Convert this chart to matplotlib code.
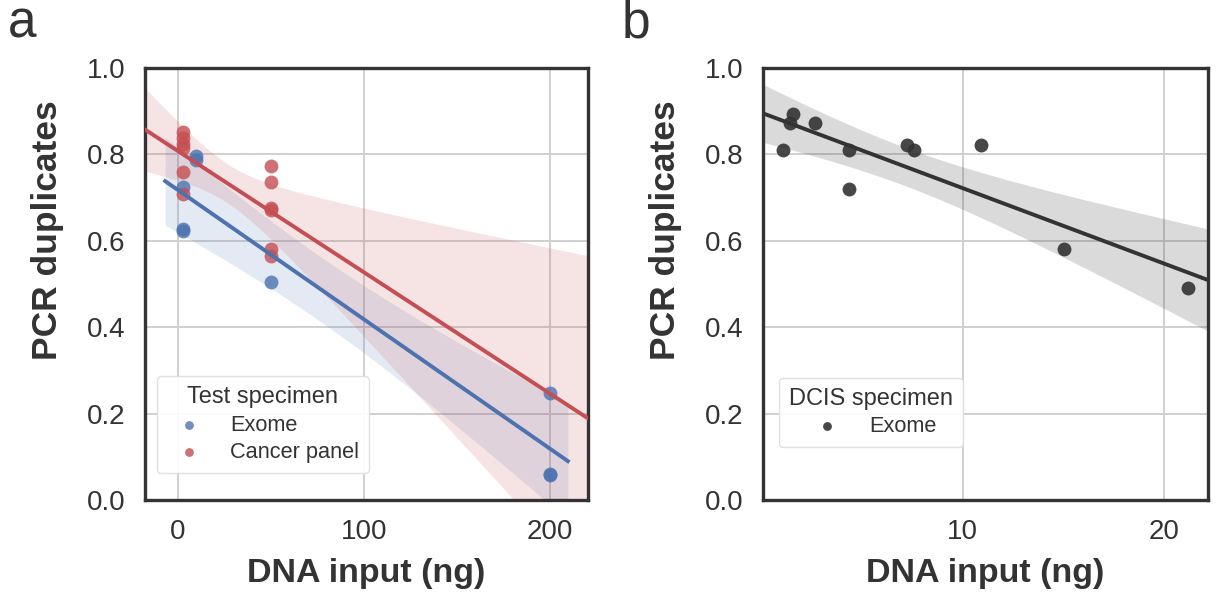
import math
import numpy as np
import matplotlib
matplotlib.use("Agg")
import matplotlib.pyplot as plt

# ---------------- data ----------------
exome_a_x = [3, 3, 3, 10, 10, 50, 200, 200, 200]
exome_a_y = [0.724, 0.627, 0.622, 0.796, 0.788, 0.505, 0.247, 0.061, 0.058]

panel_a_x = [3, 3, 3, 3, 3, 3, 50, 50, 50, 50, 50, 50]
panel_a_y = [0.852, 0.838, 0.825, 0.815, 0.759, 0.708,
             0.774, 0.737, 0.677, 0.672, 0.581, 0.565]

dcis_x = [1.1, 1.6, 1.45, 2.67, 4.38, 4.38, 7.25, 7.58, 10.9, 15.04, 21.16]
dcis_y = [0.811, 0.893, 0.873, 0.873, 0.811, 0.721, 0.822, 0.811, 0.822, 0.581, 0.491]

yticks = [0.0, 0.2, 0.4, 0.6, 0.8, 1.0]
xticks_a = [0, 100, 200]
xticks_b = [10, 20]

BLUE = "#4C72B0"
RED = "#C44E52"
DARK = "#333333"
TXT = "#333333"

plt.rcParams['font.family'] = ['Liberation Sans', 'DejaVu Sans']


def t_ppf(q, df):
    c = math.gamma((df + 1) / 2) / (math.sqrt(df * math.pi) * math.gamma(df / 2))
    def cdf(t):
        xs = np.linspace(0, t, 4001)
        pdf = c * (1 + xs ** 2 / df) ** (-(df + 1) / 2)
        return 0.5 + np.trapezoid(pdf, xs)
    lo, hi = 0.0, 20.0
    for _ in range(60):
        mid = (lo + hi) / 2
        if cdf(mid) < q:
            lo = mid
        else:
            hi = mid
    return (lo + hi) / 2


def fit_band(x, y, grid):
    x = np.asarray(x, float)
    y = np.asarray(y, float)
    n = len(x)
    b, a = np.polyfit(x, y, 1)
    res = y - (a + b * x)
    s = math.sqrt(np.sum(res ** 2) / (n - 2))
    sxx = np.sum((x - x.mean()) ** 2)
    tq = t_ppf(0.975, n - 2)
    yhat = a + b * grid
    se = s * np.sqrt(1.0 / n + (grid - x.mean()) ** 2 / sxx)
    return yhat, yhat - tq * se, yhat + tq * se


def margins(v, frac=0.05):
    lo, hi = min(v), max(v)
    r = hi - lo
    return lo - frac * r, hi + frac * r


def style_axes(ax):
    ax.set_facecolor("white")
    ax.grid(True, color="#d0d0d0", linewidth=1.4)
    ax.set_axisbelow(True)
    for sp in ax.spines.values():
        sp.set_color(DARK)
        sp.set_linewidth(2.4)
    ax.tick_params(axis='both', labelsize=20, colors=TXT, length=0, pad=14)
    ax.set_ylim(0, 1)
    ax.set_yticks(yticks)
    ax.set_yticklabels([f"{v:.1f}" for v in yticks])
    ax.set_xlabel("DNA input (ng)", fontsize=24.5, fontweight='bold', color=TXT, labelpad=9)
    ax.set_ylabel("PCR duplicates", fontsize=25.5, fontweight='bold', color=TXT)


def style_legend(leg):
    for t in leg.get_texts():
        t.set_color(TXT)
    leg.get_title().set_color(TXT)
    leg.get_frame().set_linewidth(1.0)


fig = plt.figure(figsize=(12.21, 5.98), dpi=100)
W, H = 1221, 598
ax1 = fig.add_axes([145 / W, 98 / H, 443 / W, 432 / H])
ax2 = fig.add_axes([763 / W, 98 / H, 445 / W, 432 / H])

MS = 100
LEG = dict(loc="lower left", borderaxespad=0, fontsize=15.7, title_fontsize=17,
           handletextpad=0.9, frameon=True, fancybox=True, edgecolor="#dddddd",
           framealpha=0.9, borderpad=0.45, labelspacing=0.3)

# ---------------- panel a ----------------
style_axes(ax1)
bx0, bx1 = margins(exome_a_x)
xlim_a = margins([bx0, bx1])
ax1.set_xlim(*xlim_a)

g_blue = np.linspace(bx0, bx1, 200)
yh, lo, hi = fit_band(exome_a_x, exome_a_y, g_blue)
ax1.fill_between(g_blue, lo, hi, color=BLUE, alpha=0.15, linewidth=0, zorder=2)
ax1.plot(g_blue, yh, color=BLUE, lw=2.8, zorder=4)
ax1.scatter(exome_a_x, exome_a_y, s=MS, color=BLUE, alpha=0.8, linewidths=0, zorder=3)

g_red = np.linspace(xlim_a[0], xlim_a[1], 200)
yh, lo, hi = fit_band(panel_a_x, panel_a_y, g_red)
ax1.fill_between(g_red, lo, hi, color=RED, alpha=0.15, linewidth=0, zorder=2)
ax1.plot(g_red, yh, color=RED, lw=2.8, zorder=4)
ax1.scatter(panel_a_x, panel_a_y, s=MS, color=RED, alpha=0.8, linewidths=0, zorder=3)

ax1.set_xticks(xticks_a)
ax1.set_xticklabels([str(v) for v in xticks_a])

h1 = ax1.scatter([], [], s=40, color=BLUE, alpha=0.8, linewidths=0, label="Exome")
h2 = ax1.scatter([], [], s=40, color=RED, alpha=0.8, linewidths=0, label="Cancer panel")
leg = ax1.legend(handles=[h1, h2], title="Test specimen",
                 bbox_to_anchor=(0.027, 0.0625), **LEG)
style_legend(leg)
ax1.yaxis.set_label_coords(-0.183, 0.625)

# ---------------- panel b ----------------
style_axes(ax2)
xlim_b = margins(dcis_x)
ax2.set_xlim(*xlim_b)
g = np.linspace(xlim_b[0], xlim_b[1], 200)
yh, lo, hi = fit_band(dcis_x, dcis_y, g)
ax2.fill_between(g, lo, hi, color=DARK, alpha=0.18, linewidth=0, zorder=2)
ax2.plot(g, yh, color=DARK, lw=2.8, zorder=4)
ax2.scatter(dcis_x, dcis_y, s=MS, color=DARK, alpha=0.9, linewidths=0, zorder=3)
ax2.set_xticks(xticks_b)
ax2.set_xticklabels([str(v) for v in xticks_b])

h3 = ax2.scatter([], [], s=40, color=DARK, alpha=0.9, linewidths=0, label="Exome")
leg2 = ax2.legend(handles=[h3], title="DCIS specimen",
                  bbox_to_anchor=(0.036, 0.123), **LEG)
style_legend(leg2)
ax2.yaxis.set_label_coords(-0.183, 0.625)

# panel letters
fig.text(8 / W, 1 - 38 / H, "a", fontsize=37, color=TXT, ha="left", va="baseline")
fig.text(622 / W, 1 - 38 / H, "b", fontsize=37, color=TXT, ha="left", va="baseline")

fig.savefig("out.png", dpi=100, facecolor="white")
